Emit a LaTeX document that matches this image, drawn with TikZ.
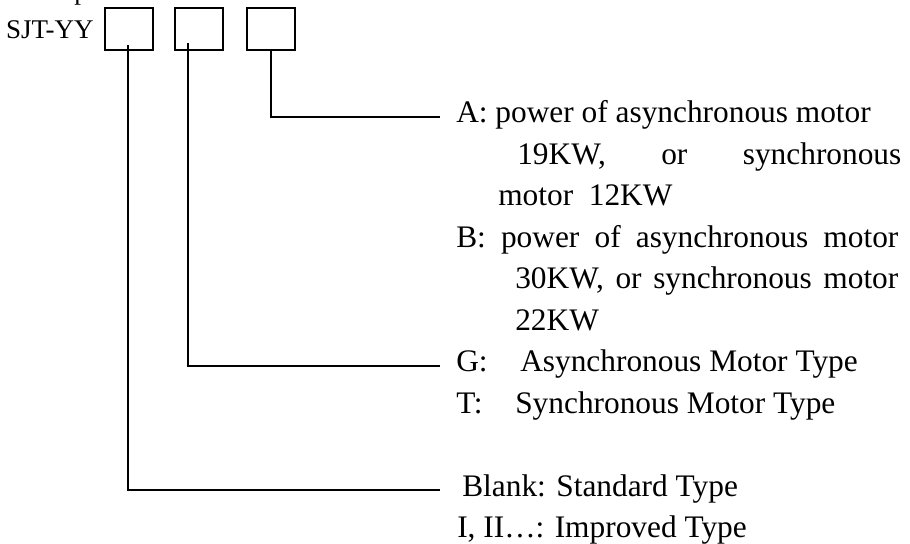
\documentclass[tikz,border=0pt]{standalone}
\usepackage{fontspec}
\setmainfont{Liberation Serif}
\usepackage{tikz}

\begin{document}
\begin{tikzpicture}[x=0.025cm, y=-0.025cm,
    codebox/.style={draw, line width=1.4pt, minimum width=1.2cm, minimum height=1.05cm, inner sep=0pt, outer sep=0pt},
    wire/.style={line width=1.4pt},
    codetext/.style={inner sep=0pt, font=\fontsize{19.2pt}{23pt}\selectfont},
    legend/.style={anchor=base west, inner sep=0pt, font=\fontsize{22.3pt}{26pt}\selectfont}]

    % Picture frame
    \useasboundingbox (0,0) rectangle (910,544);

    % Cut line of text above
    \begin{scope}
        \clip (0,0) rectangle (910,544);
        \node[codetext, anchor=base west] (cut) at (74,0) {p};
    \end{scope}

    % Model code
    \node[codetext, anchor=base east] (model) at (94,39) {SJT-YY};

    % Code boxes
    \foreach \n/\x in {1/129, 2/199, 3/271} {
        \node[codebox] (box\n) at (\x,29) {};
    }

    % Power
    \node[legend] (labA) at (456,123) {A: power of asynchronous motor};
    \node[legend] (labAb) at (517,164.5) {\makebox[9.6cm][s]{19KW, or synchronous}};
    \node[legend] (labAc) at (498,206) {motor\ \ 12KW};
    \node[legend] (labB) at (456,247.5) {\makebox[11.05cm][s]{B: power of asynchronous motor}};
    \node[legend] (labBb) at (515,289) {\makebox[9.575cm][s]{30KW, or synchronous motor}};
    \node[legend] (labBc) at (515,330.5) {22KW};

    % Motor type
    \node[legend] (labG) at (456,372) {\makebox[1.6cm][l]{G:}Asynchronous Motor Type};
    \node[legend] (labT) at (456,413.5) {\makebox[1.475cm][l]{T:}Synchronous Motor Type};

    % Design
    \node[legend] (labBl) at (462,496.5) {Blank: Standard Type};
    \node[legend] (labI) at (457,538) {I, II…: Improved Type};

    % Leader lines
    \coordinate (endA) at ([xshift=-0.4cm, yshift=0.08cm]labA.mid west);
    \coordinate (endG) at ([xshift=-0.4cm, yshift=0.08cm]labG.mid west);
    \coordinate (endBl) at ([xshift=-0.55cm, yshift=0.08cm]labBl.mid west);
    \draw[wire] (box3.south) |- (endA);
    \draw[wire] ([xshift=-0.275cm, yshift=0.175cm]box2.south) |- (endG);
    \draw[wire] ([xshift=-0.025cm, yshift=0.125cm]box1.south) |- (endBl);

\end{tikzpicture}
\end{document}
